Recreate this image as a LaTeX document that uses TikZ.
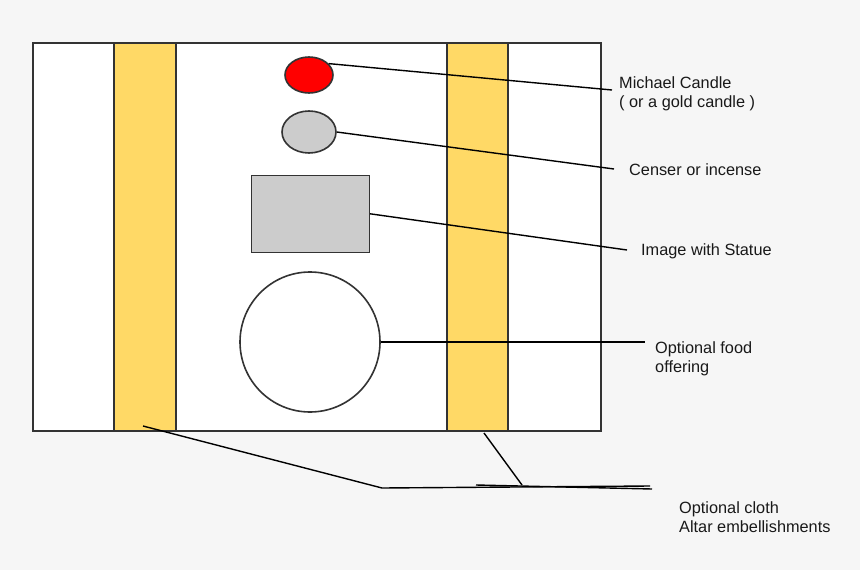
\documentclass[tikz,border=0pt]{standalone}
\usepackage{fontspec}
\setmainfont{Liberation Sans}
\usetikzlibrary{shapes.geometric}
\definecolor{bg}{HTML}{F6F6F6}
\definecolor{strip}{HTML}{FFD966}
\definecolor{edge}{HTML}{333333}
\definecolor{lgray}{HTML}{CCCCCC}
\begin{document}
\begin{tikzpicture}[x=1pt,y=-1pt,
  shapeline/.style={draw=edge,line width=1.6pt},
  leader/.style={draw=black,line width=1.4pt},
  lbl/.style={anchor=west,inner sep=0pt,font=\fontsize{16.3}{19}\selectfont,align=left,text=black!90}]
\fill[bg] (0,0) rectangle (860,570);
\useasboundingbox (0,0) rectangle (860,570);
% altar
\node[shapeline,fill=white,minimum width=568,minimum height=388,inner sep=0pt,anchor=north west] (altar) at (32,42) {};
\node[shapeline,fill=strip,minimum width=62,minimum height=388,inner sep=0pt,anchor=north west] (cloth1) at (113,42) {};
\node[shapeline,fill=strip,minimum width=61,minimum height=388,inner sep=0pt,anchor=north west] (cloth2) at (446,42) {};
% items
\node[shapeline,ellipse,fill=red,minimum width=48,minimum height=36,inner sep=0pt] (candle) at (309,75) {};
\node[shapeline,ellipse,fill=lgray,minimum width=54,minimum height=42,inner sep=0pt] (censer) at (309,132) {};
\node[shapeline,fill=lgray,minimum width=118,minimum height=77,inner sep=0pt,anchor=north west] (image) at (250.5,174.5) {};
\node[shapeline,circle,fill=white,minimum size=140,inner sep=0pt] (food) at (310,342) {};
% labels
\node[lbl] (l1) at (619,94) {Michael Candle\\( or a gold candle )};
\node[lbl] (l2) at (629,170) {Censer or incense};
\node[lbl] (l3) at (641,251) {Image with Statue};
\node[lbl] (l4) at (655,359) {Optional food\\offering};
\node[lbl] (l5) at (679,517) {Optional cloth\\Altar embellishments};
% leader ends
\coordinate (e1) at (612,90);
\coordinate (e2) at (614,169);
\coordinate (e3) at (627,250);
\coordinate (e4) at (645,342);
\coordinate (b1) at (382,488);
\coordinate (b2) at (650,486);
\coordinate (b3) at (522,485);
\coordinate (b4) at (476,485);
\coordinate (b5) at (652,489);
\coordinate (s1) at (143,426);
\coordinate (s2) at (484,433);
% connectors
\draw[leader] (candle.30) -- (e1);
\draw[leader] (censer.east) -- (e2);
\draw[leader] (image.east) -- (e3);
\draw[leader] (food.east) -- (e4);
\draw[leader] (s1) -- (b1) -- (b2);
\draw[leader] (s2) -- (b3);
\draw[leader] (b4) -- (b5);
\end{tikzpicture}
\end{document}
